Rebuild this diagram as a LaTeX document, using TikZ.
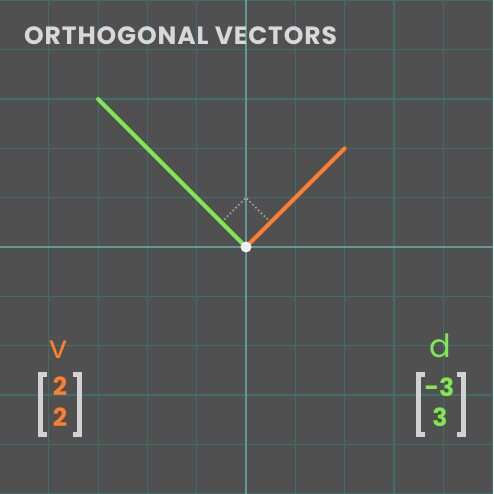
\documentclass[tikz,border=0pt]{standalone}
\usepackage{fontspec}
\setmainfont{Poppins}
\newfontfamily\popfont{Poppins}
\newfontfamily\titlefont{Poppins}[LetterSpace=3.5]
\definecolor{bgc}{HTML}{505050}
\definecolor{gridc}{HTML}{3E6E6B}
\definecolor{axisc}{HTML}{5E9995}
\definecolor{orangev}{HTML}{FF7F2F}
\definecolor{greenv}{HTML}{82E852}
\definecolor{titlec}{HTML}{D8D8D8}
\definecolor{brackc}{HTML}{D2D2D2}
\tikzset{
  gridline/.style={gridc, line width=1.2pt},
  axisline/.style={axisc, line width=1.6pt},
  vecline/.style={line width=4pt, line cap=round},
  marker/.style={draw=gray!70!white, line width=1.6pt, dash pattern=on 1.6pt off 2.4pt},
  lab/.style={font=\popfont\fontsize{32}{32}\selectfont, inner sep=0pt},
  num/.style={font=\popfont\bfseries\fontsize{25}{25}\selectfont, inner sep=0pt},
  brack/.style={brackc, line width=5pt, line cap=butt, line join=miter}
}
\begin{document}
\begin{tikzpicture}[x=1pt,y=-1pt]
\fill[bgc] (0,0) rectangle (493,494);
\useasboundingbox (0,0) rectangle (493,494);
% grid
\foreach \k in {-5,...,5}{
  \draw[gridline] ({246+49.3*\k},0) -- ({246+49.3*\k},494);
  \draw[gridline] (0,{247+49.3*\k}) -- (493,{247+49.3*\k});
}
\draw[axisline] (246,0) -- (246,494);
\draw[axisline] (0,247) -- (493,247);
% title
\node[anchor=base west, inner sep=0pt, text=titlec, font=\titlefont\bfseries\fontsize{25}{25}\selectfont] (title) at (24,45) {ORTHOGONAL VECTORS};
% vectors
\coordinate (O) at (246,247);
\coordinate (V) at ({246+2*49.3},{247-2*49.3});
\coordinate (D) at ({246-3*49.3},{247-3*49.3});
\coordinate (MA) at ({246-0.5*49.3},{247-0.5*49.3});
\coordinate (MC) at (246,{247-49.3});
\coordinate (MB) at ({246+0.5*49.3},{247-0.5*49.3});
\draw[marker] (MA) -- (MC) -- (MB);
\draw[vecline, greenv] (O) -- (D);
\draw[vecline, orangev] (O) -- (V);
\fill[white!88!gray] (O) circle (5.5);
% v label
\node[lab, text=orangev] (vl) at (58,350) {v};
\node[num, text=orangev] (v1) at (60,386) {2};
\node[num, text=orangev] (v2) at (60,417.5) {2};
\draw[brack] (47,374) -- (40.5,374) -- (40.5,434) -- (47,434);
\draw[brack] (73,374) -- (79.5,374) -- (79.5,434) -- (73,434);
% d label
\node[lab, text=greenv] (dl) at (440,346) {d};
\node[num, text=greenv] (d1) at (439.5,387) {-3};
\node[num, text=greenv] (d2) at (440,417.5) {3};
\draw[brack] (425,374) -- (418.5,374) -- (418.5,434) -- (425,434);
\draw[brack] (457,374) -- (463.5,374) -- (463.5,434) -- (457,434);
\end{tikzpicture}
\end{document}
